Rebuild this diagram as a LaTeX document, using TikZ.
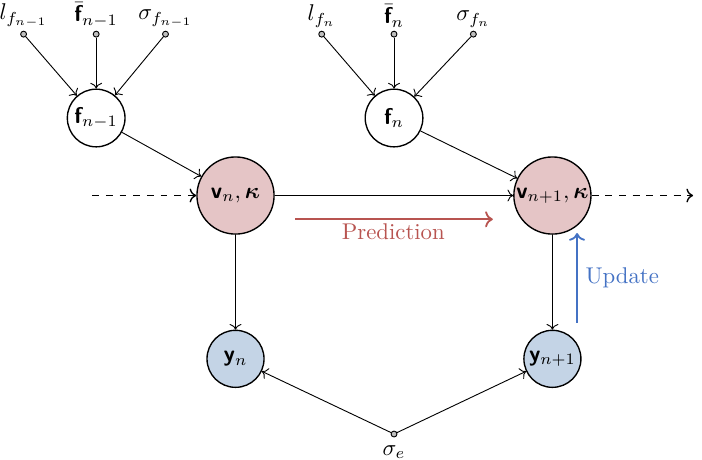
\documentclass[tikz,border=0pt]{standalone}
\usepackage{amsmath}
\usepackage{bm}
\usetikzlibrary{positioning, arrows.meta}

\definecolor{statered}{RGB}{229,197,198}
\definecolor{obsblue}{RGB}{196,212,230}
\definecolor{predred}{RGB}{184,84,80}
\definecolor{updblue}{RGB}{68,114,196}

\DeclareMathAlphabet{\mathbsf}{OT1}{cmss}{bx}{n}

\begin{document}
\begin{tikzpicture}[
    on grid,
    state/.style={
        circle,
        draw,
        semithick,
        fill=statered,
        minimum size=1.19cm,
        inner sep=0pt
    },
    obs/.style={
        circle,
        draw,
        semithick,
        fill=obsblue,
        minimum size=0.88cm,
        inner sep=0pt
    },
    latent/.style={
        circle,
        draw,
        semithick,
        minimum size=0.89cm,
        inner sep=0pt
    },
    param/.style={
        circle,
        draw,
        fill=black!25,
        minimum size=2.6pt,
        inner sep=0pt
    },
    toplabel/.style={label={[yshift=-2pt]above:#1}},
    edge/.style={->},
    flow/.style={semithick, dashed, ->}
]

\useasboundingbox (-3.634,-4.081) rectangle (7.198,3.017);

\node[state] (vn) at (0,0) {$\mathbsf{v}_n, \bm{\kappa}$};
\node[state] (vnext) [right=4.89cm of vn] {$\mathbsf{v}_{n+1}, \bm{\kappa}$};
\node[latent] (fprev) at (-2.15,1.196) {$\mathbsf{f}_{n-1}$};
\node[latent] (fn) at (2.446,1.196) {$\mathbsf{f}_n$};
\node[obs] (yn) [below=2.52cm of vn] {$\mathbsf{y}_n$};
\node[obs] (ynext) [below=2.52cm of vnext] {$\mathbsf{y}_{n+1}$};

\node[param, toplabel={$l_{f_{n-1}}$}] (lprev) [above left=1.294cm and 1.12cm of fprev] {};
\node[param, toplabel={$\bar{\mathbsf{f}}_{n-1}$}] (fbarprev) [above=1.294cm of fprev] {};
\node[param, toplabel={$\sigma_{f_{n-1}}$}] (sigprev) [above right=1.294cm and 1.07cm of fprev] {};
\node[param, toplabel={$l_{f_n}$}] (ln) [above left=1.294cm and 1.116cm of fn] {};
\node[param, toplabel={$\bar{\mathbsf{f}}_n$}] (fbarn) [above=1.294cm of fn] {};
\node[param, toplabel={$\sigma_{f_n}$}] (sign) [above right=1.294cm and 1.224cm of fn] {};
\node[param, label=below:{$\sigma_e$}] (sige) at (2.446,-3.68) {};

\coordinate (flowin) at (-2.21,0);
\coordinate (flowout) at (7.06,0);
\coordinate (predstart) at (0.918,-0.367);
\coordinate (predend) at (3.97,-0.367);
\coordinate (updstart) at (5.27,-1.967);
\coordinate (updend) at (5.27,-0.579);

\draw[edge] (lprev) -- (fprev);
\draw[edge] (fbarprev) -- (fprev);
\draw[edge] (sigprev) -- (fprev);
\draw[edge] (ln) -- (fn);
\draw[edge] (fbarn) -- (fn);
\draw[edge] (sign) -- (fn);

\draw[edge] (fprev) -- (vn);
\draw[edge] (fn) -- (vnext);
\draw[edge] (vn) -- (vnext);
\draw[edge] (vn) -- (yn);
\draw[edge] (vnext) -- (ynext);
\draw[edge] (sige) -- (yn);
\draw[edge] (sige) -- (ynext);

\draw[flow] (flowin) -- (vn);
\draw[flow] (vnext) -- (flowout);

\draw[thick, predred, ->] (predstart) -- (predend);
\node[text=predred] (predlabel) at (2.435,-0.559) {Prediction};
\draw[thick, updblue, ->] (updstart) -- (updend)
    node[midway, right, text=updblue] (updlabel) {Update};

\end{tikzpicture}
\end{document}
